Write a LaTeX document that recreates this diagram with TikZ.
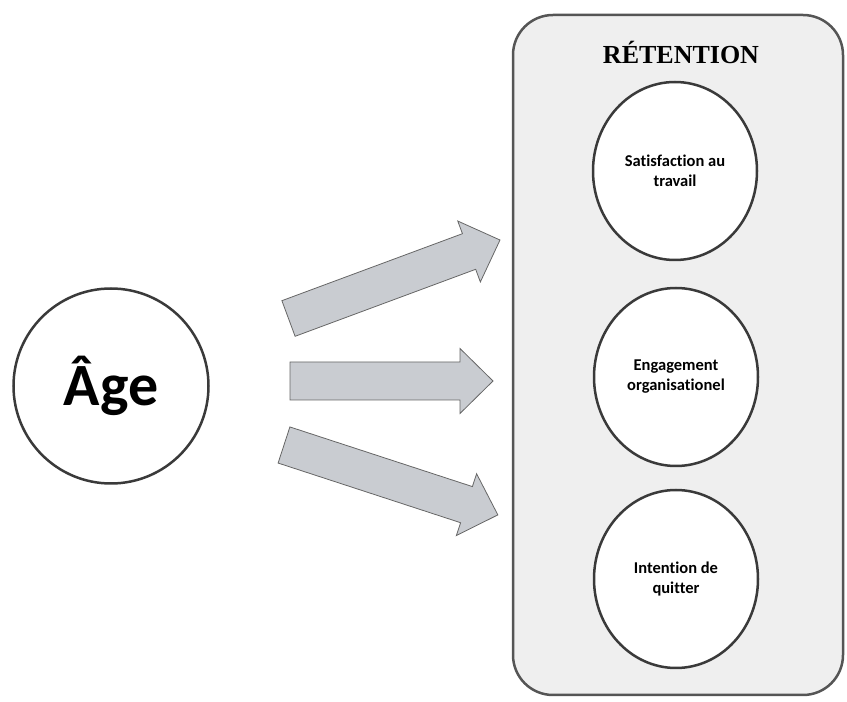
\documentclass[tikz,border=0pt]{standalone}
\usepackage{fontspec}
\setmainfont{Liberation Serif}
\newfontfamily\calib[Ligatures={NoCommon}]{Carlito}
\definecolor{boxfill}{HTML}{EFEFEF}
\definecolor{boxline}{HTML}{555555}
\definecolor{circline}{HTML}{3A3A3A}
\definecolor{arrfill}{HTML}{C9CCD1}
\definecolor{arrline}{HTML}{666666}
\begin{document}
\begin{tikzpicture}[x=1pt,y=1pt,
  retbox/.style={draw=boxline, line width=2.5pt, fill=boxfill, rounded corners=40pt},
  bigcirc/.style={circle, draw=circline, line width=2.5pt, fill=white, minimum size=195pt, inner sep=0pt, font=\calib\bfseries\fontsize{60}{66}\selectfont},
  ovalnode/.style={ellipse, draw=circline, line width=2.5pt, fill=white, minimum width=164pt, minimum height=178pt, inner sep=0pt, align=center, font=\calib\bfseries\fontsize{16.5}{20}\selectfont},
  fatarrow/.style={draw=arrline, line width=0.8pt, fill=arrfill, line join=miter},
  titletext/.style={font=\bfseries\fontsize{26}{30}\selectfont}
]
\usetikzlibrary{shapes.geometric}
\useasboundingbox (0,0) rectangle (847,702);
% retention box
\draw[retbox] (513,7) rectangle (843,687);
\node[titletext] (title) at (681,650) {RÉTENTION};
% age
\node[bigcirc] (age) at (111,316) {Âge};
% retention circles
\node[ovalnode] (sat) at (675,531) {Satisfaction au\\travail};
\node[ovalnode] (eng) at (676,325) {Engagement\\organisationel};
\node[ovalnode] (int) at (676,123) {Intention de\\quitter};
% arrows
\begin{scope}[shift={(288.5,383.5)}, rotate=20.36]
  \draw[fatarrow] (0,-19) -- (192.6,-19) -- (192.6,-32.5) -- (225.6,0) -- (192.6,32.5) -- (192.6,19) -- (0,19) -- cycle;
\end{scope}
\begin{scope}[shift={(290,321)}]
  \draw[fatarrow] (0,-19) -- (170,-19) -- (170,-32.5) -- (203,0) -- (170,32.5) -- (170,19) -- (0,19) -- cycle;
\end{scope}
\begin{scope}[shift={(284,257)}, rotate=-18.1]
  \draw[fatarrow] (0,-19) -- (192,-19) -- (192,-32.5) -- (225,0) -- (192,32.5) -- (192,19) -- (0,19) -- cycle;
\end{scope}
\end{tikzpicture}
\end{document}
